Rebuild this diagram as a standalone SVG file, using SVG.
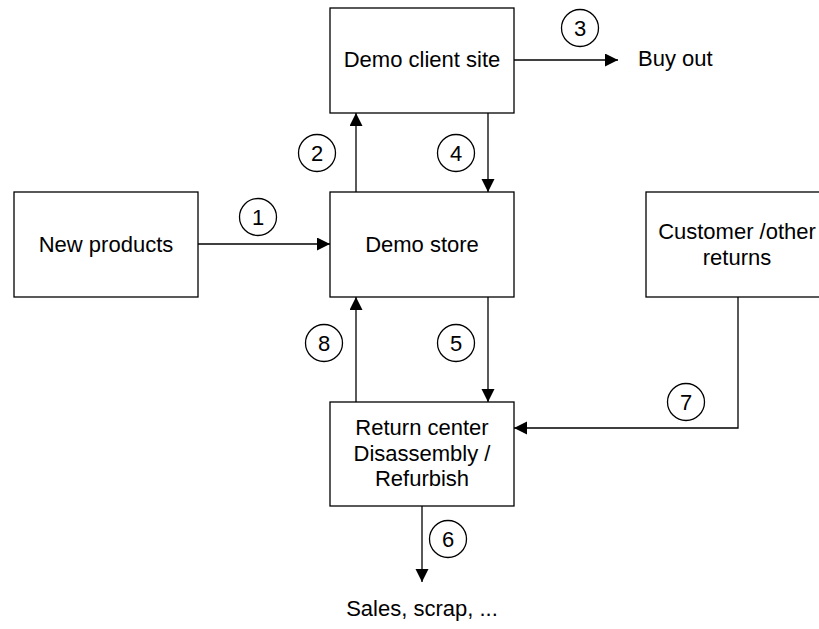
<svg xmlns="http://www.w3.org/2000/svg" width="819" height="629" viewBox="0 0 819 629">
  <style>
    .box { fill: #ffffff; stroke: #000000; stroke-width: 1.3; }
    .lbl { font-family: "Liberation Sans", Arial, sans-serif; font-size: 22px; fill: #000000; text-anchor: middle; }
    .free { font-family: "Liberation Sans", Arial, sans-serif; font-size: 22px; fill: #000000; }
    .edge { fill: none; stroke: #000000; stroke-width: 1.3; marker-end: url(#arrow); }
    .num circle { fill: #ffffff; stroke: #000000; stroke-width: 1.3; }
  </style>
  <defs>
    <marker id="arrow" markerUnits="userSpaceOnUse" markerWidth="14" markerHeight="14" viewBox="0 0 14 14" refX="13" refY="6.5" orient="auto">
      <path d="M0,0 L13,6.5 L0,13 z" fill="#000000"/>
    </marker>
  </defs>
  <rect width="819" height="629" fill="#ffffff"/>

  <!-- flow connectors -->
  <g id="connectors">
    <line class="edge" x1="198" y1="244" x2="330" y2="244"/>
    <line class="edge" x1="356" y1="192" x2="356" y2="113"/>
    <line class="edge" x1="514" y1="60" x2="618" y2="60"/>
    <line class="edge" x1="488" y1="113" x2="488" y2="192"/>
    <line class="edge" x1="488" y1="297" x2="488" y2="402"/>
    <line class="edge" x1="422" y1="506" x2="422" y2="582"/>
    <polyline class="edge" points="738,297 738,428 514,428"/>
    <line class="edge" x1="356" y1="402" x2="356" y2="297"/>
  </g>

  <!-- step numbers -->
  <g id="steps" class="num">
    <g id="step1"><circle cx="258" cy="217" r="18.5"/><text class="lbl" x="258" y="225">1</text></g>
    <g id="step2"><circle cx="317" cy="153" r="18.5"/><text class="lbl" x="317" y="161">2</text></g>
    <g id="step3"><circle cx="580" cy="28" r="18.5"/><text class="lbl" x="580" y="36">3</text></g>
    <g id="step4"><circle cx="456" cy="153" r="18.5"/><text class="lbl" x="456" y="161">4</text></g>
    <g id="step5"><circle cx="456" cy="343" r="18.5"/><text class="lbl" x="456" y="351">5</text></g>
    <g id="step6"><circle cx="448" cy="539" r="18.5"/><text class="lbl" x="448" y="547">6</text></g>
    <g id="step7"><circle cx="686" cy="402" r="18.5"/><text class="lbl" x="686" y="410">7</text></g>
    <g id="step8"><circle cx="324" cy="343" r="18.5"/><text class="lbl" x="324" y="351">8</text></g>
  </g>

  <!-- nodes -->
  <g id="demo-client-site">
    <rect class="box" x="330" y="8" width="184" height="105"/>
    <text class="lbl" x="422" y="67">Demo client site</text>
  </g>
  <g id="new-products">
    <rect class="box" x="14" y="192" width="184" height="105"/>
    <text class="lbl" x="106" y="252">New products</text>
  </g>
  <g id="demo-store">
    <rect class="box" x="330" y="192" width="184" height="105"/>
    <text class="lbl" x="422" y="252">Demo store</text>
  </g>
  <g id="customer-returns">
    <rect class="box" x="646" y="192" width="184" height="105"/>
    <text class="lbl" x="737" y="239">Customer /other</text>
    <text class="lbl" x="737" y="265">returns</text>
  </g>
  <g id="return-center">
    <rect class="box" x="330" y="402" width="184" height="104"/>
    <text class="lbl" x="422" y="435">Return center</text>
    <text class="lbl" x="422" y="460.5">Disassembly /</text>
    <text class="lbl" x="422" y="486">Refurbish</text>
  </g>
  <g id="buy-out">
    <text class="free" x="638" y="66">Buy out</text>
  </g>
  <g id="sales-scrap">
    <text class="lbl" x="422" y="616">Sales, scrap, ...</text>
  </g>
</svg>
